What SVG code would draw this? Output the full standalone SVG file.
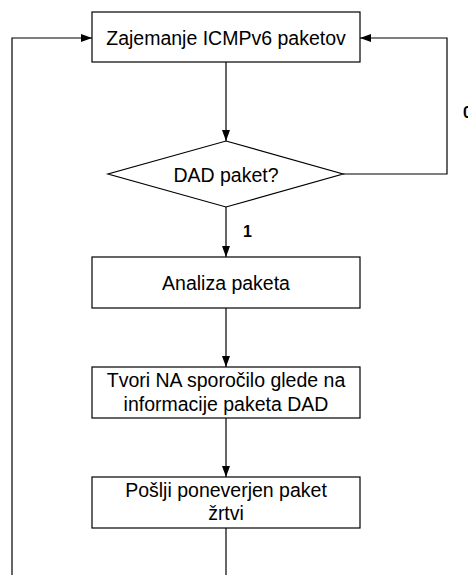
<svg xmlns="http://www.w3.org/2000/svg" width="468" height="575" viewBox="0 0 468 575">
  <style>
    .box { fill: #ffffff; stroke: #000000; stroke-width: 1.2; }
    .lbl { font-family: "Liberation Sans", Arial, sans-serif; font-size: 19.5px; fill: #000000; text-anchor: middle; }
    .edge { fill: none; stroke: #000000; stroke-width: 1.2; }
    .elbl { font-family: "Liberation Sans", Arial, sans-serif; font-size: 16px; font-weight: bold; fill: #000000; }
  </style>
  <defs>
    <marker id="arrow" markerUnits="userSpaceOnUse" markerWidth="11" markerHeight="8" refX="11" refY="4" orient="auto">
      <path d="M0,0 L11,4 L0,8 z" fill="#000000"/>
    </marker>
  </defs>
  <rect width="468" height="575" fill="#ffffff"/>

  <g id="connectors">
    <!-- capture -> decision -->
    <line class="edge" x1="226" y1="62" x2="226" y2="141" marker-end="url(#arrow)"/>
    <!-- decision "0" -> back to capture -->
    <polyline class="edge" points="343,174 447,174 447,38 360,38" marker-end="url(#arrow)"/>
    <text class="elbl" x="463" y="118">0</text>
    <!-- decision "1" -> analysis -->
    <line class="edge" x1="226" y1="207" x2="226" y2="257" marker-end="url(#arrow)"/>
    <text class="elbl" x="243" y="237">1</text>
    <!-- analysis -> build NA -->
    <line class="edge" x1="226" y1="308" x2="226" y2="367" marker-end="url(#arrow)"/>
    <!-- build NA -> send -->
    <line class="edge" x1="226" y1="418" x2="226" y2="477" marker-end="url(#arrow)"/>
    <!-- send -> continues below -->
    <line class="edge" x1="226" y1="528" x2="226" y2="575"/>
    <!-- return loop into capture -->
    <polyline class="edge" points="12,575 12,38 92,38" marker-end="url(#arrow)"/>
  </g>

  <g id="capture">
    <rect class="box" x="92" y="12" width="268" height="50"/>
    <text class="lbl" x="226" y="45">Zajemanje ICMPv6 paketov</text>
  </g>

  <g id="is-dad">
    <polygon class="box" points="226,141 343,174 226,207 108,174"/>
    <text class="lbl" x="226" y="181.5">DAD paket?</text>
  </g>

  <g id="analyze">
    <rect class="box" x="92" y="257" width="268" height="51"/>
    <text class="lbl" x="226" y="289.5">Analiza paketa</text>
  </g>

  <g id="build-na">
    <rect class="box" x="92" y="367" width="268" height="51"/>
    <text class="lbl" x="226" y="387">Tvori NA sporočilo glede na</text>
    <text class="lbl" x="226" y="410.5">informacije paketa DAD</text>
  </g>

  <g id="send">
    <rect class="box" x="92" y="477" width="268" height="51"/>
    <text class="lbl" x="226" y="496.5">Pošlji poneverjen paket</text>
    <text class="lbl" x="226" y="520">žrtvi</text>
  </g>
</svg>
